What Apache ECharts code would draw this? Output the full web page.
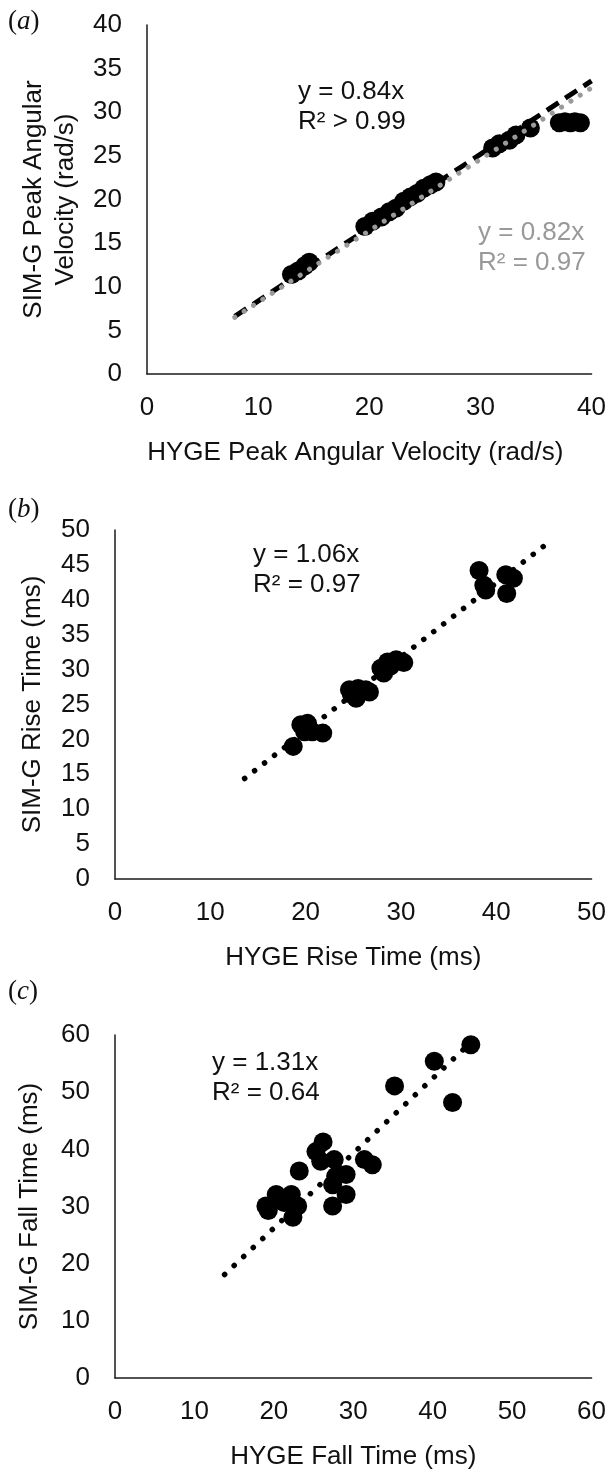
<!DOCTYPE html>
<html>
<head>
<meta charset="utf-8">
<script src="https://cdn.jsdelivr.net/npm/echarts@6/dist/echarts.min.js"></script>
<style>
  html, body { margin: 0; padding: 0; background: #fff; }
  #chart { width: 609px; height: 1474px; }
</style>
</head>
<body>
<div id="chart"></div>
<script>
// ---------- Panel (a): peak angular velocity (rad/s) ----------
const angHyge = [13.0, 13.6, 14.2, 14.6, 19.6, 20.3, 21.1, 21.8, 22.4, 23.1, 23.7, 24.3, 24.9, 25.5, 26.0, 31.1, 31.7, 32.6, 33.2, 34.5, 37.1, 37.6, 38.1, 38.5, 39.0];
const angSimg = [11.4, 11.8, 12.4, 12.8, 16.9, 17.5, 18.0, 18.6, 19.0, 19.8, 20.3, 20.7, 21.3, 21.7, 22.0, 25.9, 26.4, 26.8, 27.4, 28.2, 28.8, 28.9, 28.8, 28.9, 28.8];
const angFitBlack = [[7.9, 6.6], [40, 33.6]];   // y = 0.84x
const angFitGray  = [[7.9, 6.5], [40, 32.8]];   // y = 0.82x
const angXTicks = [0, 10, 20, 30, 40];
const angYTicks = [0, 5, 10, 15, 20, 25, 30, 35, 40];

// ---------- Panel (b): rise time (ms) ----------
const riseHyge = [18.7, 19.5, 20.2, 19.9, 20.7, 21.8, 24.6, 25.5, 26.3, 25.3, 26.7, 24.8, 27.9, 28.6, 29.5, 30.3, 28.2, 28.9, 38.2, 38.7, 38.9, 41.0, 41.8, 41.1];
const riseSimg = [19.0, 22.1, 22.3, 21.1, 21.1, 20.9, 27.1, 27.3, 27.1, 25.9, 26.8, 26.5, 30.2, 31.1, 31.4, 31.0, 29.5, 30.5, 44.2, 42.1, 41.4, 43.6, 43.1, 40.9];
const riseFit = [[13.6, 14.4], [45, 47.7]];     // y = 1.06x
const riseXTicks = [0, 10, 20, 30, 40, 50];
const riseYTicks = [0, 5, 10, 15, 20, 25, 30, 35, 40, 45, 50];

// ---------- Panel (c): fall time (ms) ----------
const fallHyge = [19.0, 19.3, 20.3, 22.2, 23.0, 22.4, 21.3, 23.2, 25.3, 26.2, 25.9, 27.6, 27.8, 27.4, 29.1, 29.1, 27.4, 31.4, 32.4, 35.2, 40.2, 42.5, 44.8];
const fallSimg = [30.1, 29.3, 32.1, 32.1, 30.1, 28.1, 30.7, 36.2, 39.6, 41.3, 37.9, 38.2, 35.3, 33.8, 35.6, 32.1, 30.1, 38.2, 37.3, 51.1, 55.4, 48.2, 58.3];
const fallFit = [[13.8, 18.1], [45.8, 60]];     // y = 1.31x
const fallXTicks = [0, 10, 20, 30, 40, 50, 60];
const fallYTicks = [0, 10, 20, 30, 40, 50, 60];

const FONT = '"Liberation Sans", Arial, sans-serif';
const SERIF = '"Liberation Serif", "Times New Roman", serif';
const FS = 26;

function pairs(xs, ys) { return xs.map((x, i) => [x, ys[i]]); }

function axis(ticks, extra) {
  return Object.assign({
    type: 'value',
    min: ticks[0],
    max: ticks[ticks.length - 1],
    interval: ticks[1] - ticks[0],
    axisLine: { show: true, lineStyle: { color: '#1a1a1a', width: 1.5 } },
    axisTick: { show: false },
    splitLine: { show: false },
    axisLabel: { fontSize: FS, color: '#111', fontFamily: FONT },
    nameLocation: 'middle',
    nameTextStyle: { fontSize: FS, color: '#111', fontFamily: FONT, lineHeight: 32 }
  }, extra);
}

function panelLabel(letter, top) {
  return {
    type: 'text', left: 8, top: top,
    style: {
      text: '{n|(}{i|' + letter + '}{n|)}',
      rich: {
        n: { fontFamily: SERIF, fontSize: 27, fill: '#111' },
        i: { fontFamily: SERIF, fontSize: 27, fontStyle: 'italic', fill: '#111' }
      }
    }
  };
}

function note(text, left, top, color) {
  return {
    type: 'text', left: left, top: top,
    style: { text: text, fontFamily: FONT, fontSize: FS, lineHeight: 30, fill: color }
  };
}

const scatterStyle = { color: '#000', opacity: 1 };
const lblX = { fontSize: FS, color: '#111', fontFamily: FONT, margin: 21 };
const lblY = { fontSize: FS, color: '#111', fontFamily: FONT, margin: 25 };

const option = {
  animation: false,
  backgroundColor: '#fff',
  grid: [
    { left: 147, top: 25, width: 446, height: 349 },
    { left: 115, top: 530, width: 478, height: 349 },
    { left: 115, top: 1035, width: 478, height: 348 }
  ],
  xAxis: [
    axis(angXTicks, { gridIndex: 0, name: 'HYGE Peak Angular Velocity (rad/s)', nameGap: 63, axisLabel: lblX,
      nameTextStyle: { fontSize: FS, color: '#111', fontFamily: FONT, lineHeight: 32, padding: [0, 28, 0, 0] } }),
    axis(riseXTicks, { gridIndex: 1, name: 'HYGE Rise Time (ms)', nameGap: 63, axisLabel: lblX }),
    axis(fallXTicks, { gridIndex: 2, name: 'HYGE Fall Time (ms)', nameGap: 63, axisLabel: lblX })
  ],
  yAxis: [
    axis(angYTicks, { gridIndex: 0, name: 'SIM-G Peak Angular\nVelocity (rad/s)', nameGap: 64, nameRotate: 90, axisLabel: lblY }),
    axis(riseYTicks, { gridIndex: 1, name: 'SIM-G Rise Time (ms)', nameGap: 66, nameRotate: 90, axisLabel: lblY }),
    axis(fallYTicks, { gridIndex: 2, name: 'SIM-G Fall Time (ms)', nameGap: 69, nameRotate: 90, axisLabel: lblY })
  ],
  series: [
    { type: 'scatter', xAxisIndex: 0, yAxisIndex: 0, data: pairs(angHyge, angSimg), symbolSize: 19, itemStyle: scatterStyle, z: 2 },
    { type: 'line', xAxisIndex: 0, yAxisIndex: 0, data: angFitBlack, showSymbol: false, silent: true, z: 3,
      lineStyle: { color: '#000', width: 5, type: [14, 8] } },
    { type: 'line', xAxisIndex: 0, yAxisIndex: 0, data: angFitGray, showSymbol: false, silent: true, z: 4,
      lineStyle: { color: '#9a9a9a', width: 5, type: [0.1, 11], cap: 'round' } },

    { type: 'scatter', xAxisIndex: 1, yAxisIndex: 1, data: pairs(riseHyge, riseSimg), symbolSize: 19, itemStyle: scatterStyle, z: 2 },
    { type: 'line', xAxisIndex: 1, yAxisIndex: 1, data: riseFit, showSymbol: false, silent: true, z: 3,
      lineStyle: { color: '#000', width: 5.5, type: [0.1, 12.5], cap: 'round' } },

    { type: 'scatter', xAxisIndex: 2, yAxisIndex: 2, data: pairs(fallHyge, fallSimg), symbolSize: 19, itemStyle: scatterStyle, z: 2 },
    { type: 'line', xAxisIndex: 2, yAxisIndex: 2, data: fallFit, showSymbol: false, silent: true, z: 3,
      lineStyle: { color: '#000', width: 5.5, type: [0.1, 13], cap: 'round' } }
  ],
  graphic: [
    panelLabel('a', 8),
    panelLabel('b', 496),
    panelLabel('c', 978),
    note('y = 0.84x\nR² > 0.99', 298, 77, '#111'),
    note('y = 0.82x\nR² = 0.97', 478, 218, '#999'),
    note('y = 1.06x\nR² = 0.97', 253, 540, '#111'),
    note('y = 1.31x\nR² = 0.64', 212, 1048, '#111')
  ]
};

const chart = echarts.init(document.getElementById('chart'), null, { renderer: 'canvas' });
chart.setOption(option);
</script>
</body>
</html>
